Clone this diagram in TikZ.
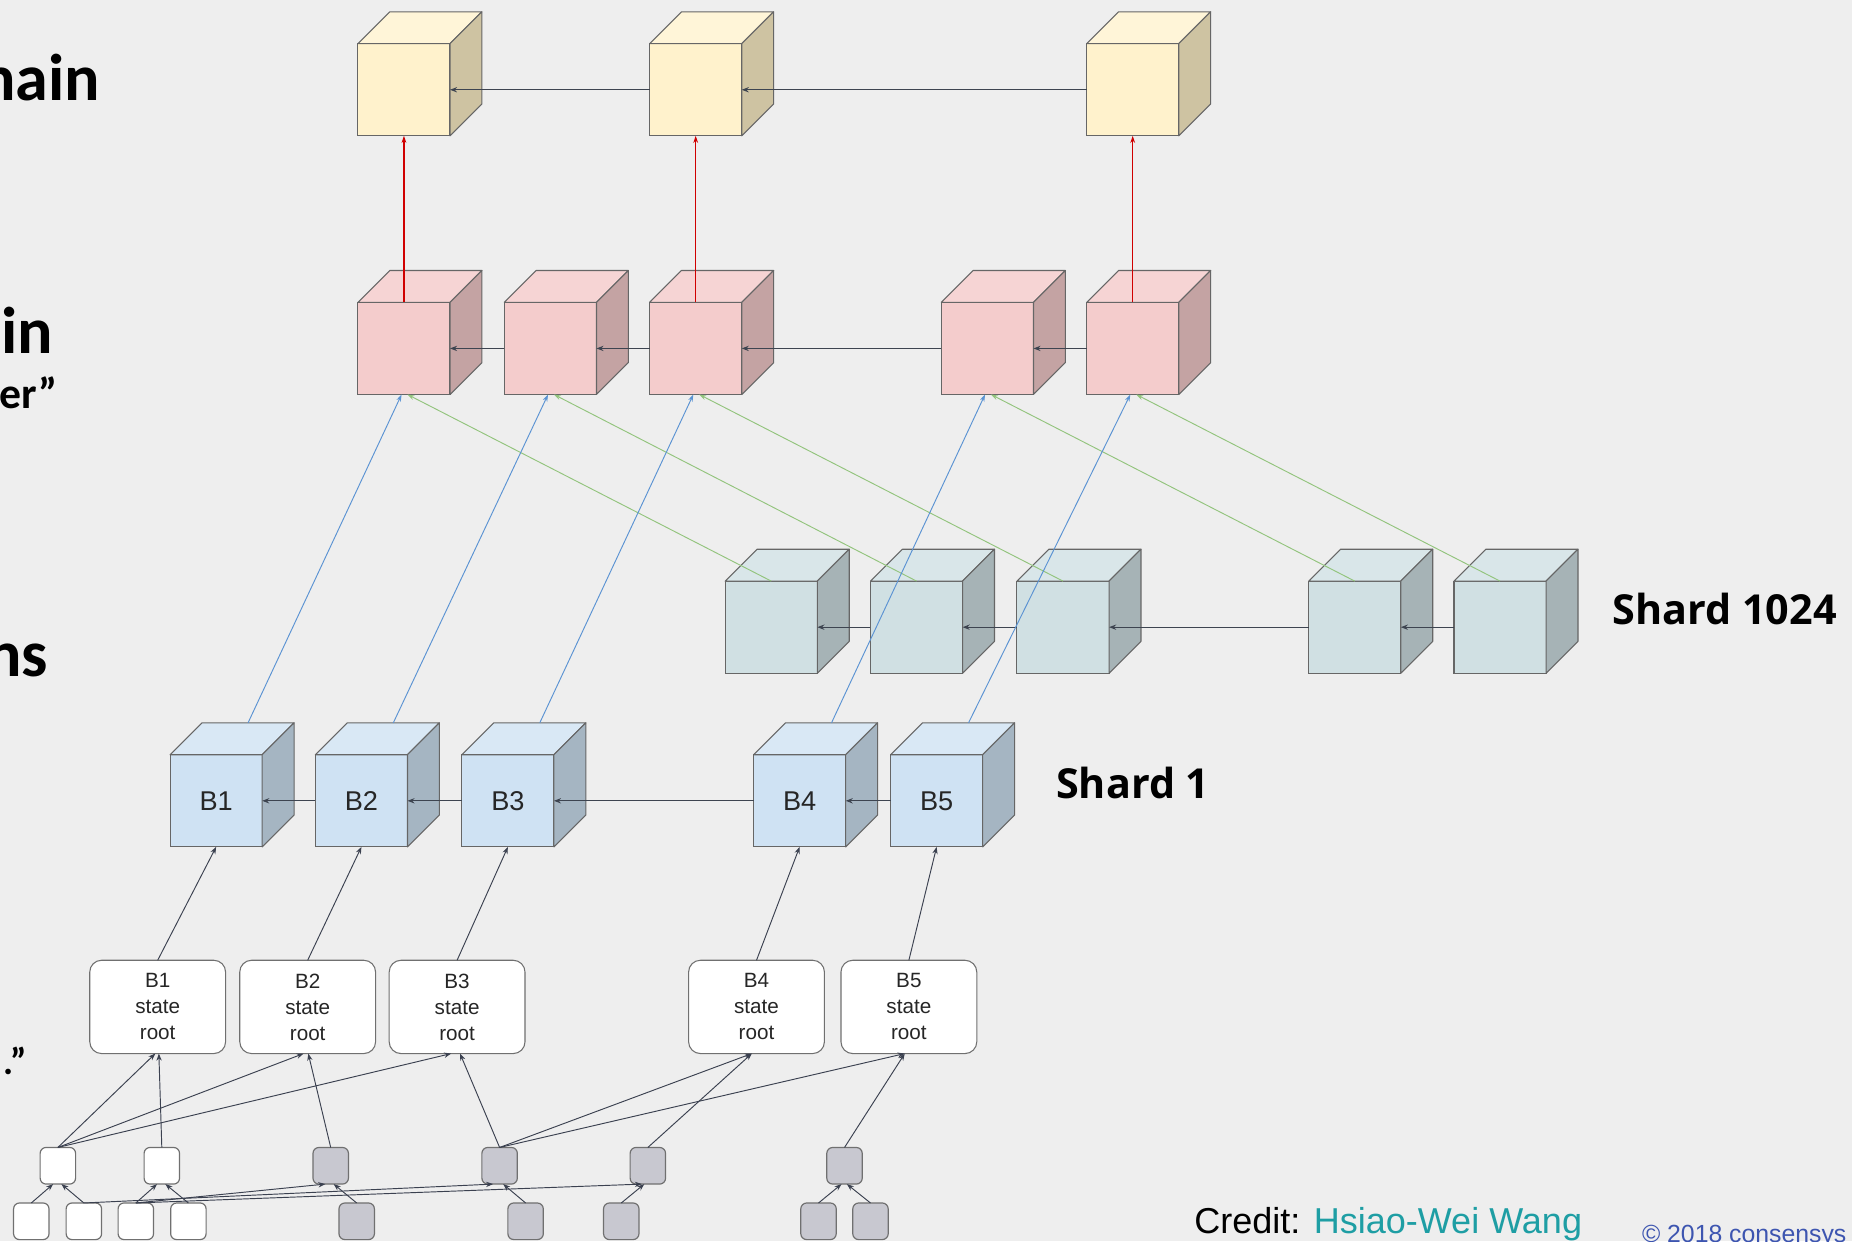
\documentclass[tikz,border=0pt]{standalone}
\usepackage{fontspec}
\setmainfont{Liberation Sans}
\newfontfamily\headfont{Carlito}
\newfontfamily\shardfont{Open Sans}
\usetikzlibrary{arrows.meta,calc}

% palette
\definecolor{bgcol}{HTML}{EEEEEE}
\definecolor{edgecol}{HTML}{666666}
\definecolor{ylwfront}{HTML}{FFF2CC}
\definecolor{ylwtop}{HTML}{FFF5D8}
\definecolor{ylwside}{HTML}{CEC3A2}
\definecolor{pnkfront}{HTML}{F4CCCC}
\definecolor{pnktop}{HTML}{F6D4D4}
\definecolor{pnkside}{HTML}{C4A3A3}
\definecolor{tealfront}{HTML}{D0E0E3}
\definecolor{tealtop}{HTML}{D9E6E9}
\definecolor{tealside}{HTML}{A6B3B6}
\definecolor{blufront}{HTML}{CFE2F3}
\definecolor{blutop}{HTML}{D9E8F5}
\definecolor{bluside}{HTML}{A5B5C2}
\definecolor{linkcol}{HTML}{3D4450}
\definecolor{treecol}{HTML}{3B4150}
\definecolor{redcol}{HTML}{D00000}
\definecolor{bluecol}{HTML}{5B93D3}
\definecolor{greencol}{HTML}{93C47D}
\definecolor{leafgray}{HTML}{C8C8D0}
\definecolor{boxedge}{HTML}{707070}
\definecolor{credcol}{HTML}{1E9EA4}
\definecolor{copycol}{HTML}{3D55B0}

\tikzset{
  cubefront/.style={draw=edgecol, line width=0.9pt, minimum width=78pt,
    minimum height=78pt, inner sep=0pt, outer sep=0pt,
    font=\fontsize{23}{27}\selectfont, text=black!85},
  cubeface/.style={draw=edgecol, line width=0.9pt, line join=round},
  link/.style={color=linkcol, line width=0.9pt, -{Stealth[length=6pt,width=4.5pt]}},
  proof/.style={draw=redcol, fill=redcol, line width=1pt, -{Stealth[length=6pt,width=4pt]}},
  bluelink/.style={color=bluecol, line width=0.8pt, -{Stealth[length=6pt,width=4pt]}},
  greenlink/.style={color=greencol, line width=0.8pt, -{Stealth[length=6pt,width=4pt]}},
  tree/.style={color=treecol, line width=0.8pt, -{Stealth[length=6pt,width=4.5pt]}},
  rootbox/.style={draw=boxedge, fill=white, line width=0.9pt, rounded corners=10pt,
    minimum width=115pt, minimum height=79pt, inner sep=0pt, outer sep=0pt,
    align=center, font=\fontsize{17.5}{22}\selectfont, text=black!85},
  leafw/.style={draw=boxedge, fill=white, line width=1pt, rounded corners=5pt,
    minimum width=30pt, minimum height=31pt, inner sep=0pt, outer sep=0pt},
  leafg/.style={leafw, fill=leafgray},
  headtext/.style={inner sep=0pt, anchor=base east, font=\headfont\bfseries\fontsize{56}{60}\selectfont},
  shardlabel/.style={inner sep=0pt, anchor=base west, font=\shardfont\bfseries\fontsize{35}{40}\selectfont},
}

% a block drawn as a cube: name, left x, top y, front, top, side colours, label
\newcommand\drawcube[7]{%
  \node[cubefront, fill=#4, anchor=north west] (#1) at (#2,#3) {#7};
  \filldraw[cubeface, fill=#5] (#1.north west) -- ++(27,-27) -- ++(78,0) -- (#1.north east) -- cycle;
  \filldraw[cubeface, fill=#6] (#1.north east) -- ++(27,-27) -- ++(0,78) -- (#1.south east) -- cycle;
}

\begin{document}
\begin{tikzpicture}[x=1pt,y=-1pt]
\useasboundingbox (0,0) rectangle (1568,1051);
\fill[bgcol] (0,0) rectangle (1568,1051);

% main chain
\drawcube{y1}{303}{37}{ylwfront}{ylwtop}{ylwside}{}
\drawcube{y2}{550}{37}{ylwfront}{ylwtop}{ylwside}{}
\drawcube{y3}{920}{37}{ylwfront}{ylwtop}{ylwside}{}

% beacon chain
\drawcube{p1}{303}{256}{pnkfront}{pnktop}{pnkside}{}
\drawcube{p2}{427}{256}{pnkfront}{pnktop}{pnkside}{}
\drawcube{p3}{550}{256}{pnkfront}{pnktop}{pnkside}{}
\drawcube{p4}{797}{256}{pnkfront}{pnktop}{pnkside}{}
\drawcube{p5}{920}{256}{pnkfront}{pnktop}{pnkside}{}

% beacon blocks anchored in the main chain
\begin{scope}[proof]
  \foreach \lo/\hi in {p5/y3, p3/y2, p1/y1}{
    \draw (\lo.north) -- (\hi.south);
  }
\end{scope}

% shard 1024
\drawcube{t1}{614}{492}{tealfront}{tealtop}{tealside}{}
\drawcube{t2}{737}{492}{tealfront}{tealtop}{tealside}{}
\drawcube{t3}{861}{492}{tealfront}{tealtop}{tealside}{}
\drawcube{t4}{1108}{492}{tealfront}{tealtop}{tealside}{}
\drawcube{t5}{1231}{492}{tealfront}{tealtop}{tealside}{}

% shard 1
\drawcube{b1}{144}{639}{blufront}{blutop}{bluside}{B1}
\drawcube{b2}{267}{639}{blufront}{blutop}{bluside}{B2}
\drawcube{b3}{391}{639}{blufront}{blutop}{bluside}{B3}
\drawcube{b4}{638}{639}{blufront}{blutop}{bluside}{B4}
\drawcube{b5}{754}{639}{blufront}{blutop}{bluside}{B5}

% side headings
\node[headtext] (hA) at (85,85) {hain};
\node[headtext] (hB) at (45,299) {in};
\node[headtext, font=\headfont\bfseries\fontsize{37}{40}\selectfont] (hC) at (49,346) {er”};
\node[headtext] (hD) at (41,573) {ns};
\node[headtext, font=\headfont\bfseries\fontsize{32}{34}\selectfont] (hE) at (23,910) {.”};

\node[shardlabel] (s1024) at (1365,529) {Shard 1024};
\node[shardlabel] (s1) at (894,676) {Shard 1};

% parent links along each chain
\draw[link] (y2.west) -- (y1.east);
\draw[link] (y3.west) -- (y2.east);
\draw[link] (p2.west) -- (p1.east);
\draw[link] (p3.west) -- (p2.east);
\draw[link] (p4.west) -- (p3.east);
\draw[link] (p5.west) -- (p4.east);
\draw[link] (t2.west) -- (t1.east);
\draw[link] (t3.west) -- (t2.east);
\draw[link] (t4.west) -- (t3.east);
\draw[link] (t5.west) -- (t4.east);
\draw[link] (b2.west) -- (b1.east);
\draw[link] (b3.west) -- (b2.east);
\draw[link] (b4.west) -- (b3.east);
\draw[link] (b5.west) -- (b4.east);

% crosslinks from shards into the beacon chain
\foreach \i in {1,...,5}{
  \draw[bluelink] ($(b\i.north)+(27,-27)$) -- ($(p\i.south)+(-2,0)$);
  \draw[greenlink] (t\i.north) -- ($(p\i.south)+(3,0)$);
}

% state roots
\node[rootbox] (r1) at (133.5,852.5) {B1\\state\\root};
\node[rootbox] (r2) at (260.5,852.5) {B2\\state\\root};
\node[rootbox] (r3) at (387,852.5) {B3\\state\\root};
\node[rootbox] (r4) at (640.5,852.5) {B4\\state\\root};
\node[rootbox] (r5) at (769.5,852.5) {B5\\state\\root};

\draw[tree] (r1.north) -- (b1.south);
\draw[tree] (r2.north) -- (b2.south);
\draw[tree] (r3.north) -- (b3.south);
\draw[tree] (r4.north) -- (b4.south);
\draw[tree] (r5.north) -- (b5.south);

% state tree nodes
\node[leafw] (l1) at (49,987) {};
\node[leafw] (l2) at (137,987) {};
\node[leafg] (l3) at (280,987) {};
\node[leafg] (l4) at (423,987) {};
\node[leafg] (l5) at (548.5,987) {};
\node[leafg] (l6) at (715,987) {};

\node[leafw] (m1) at (26.5,1034) {};
\node[leafw] (m2) at (71,1034) {};
\node[leafw] (m3) at (115,1034) {};
\node[leafw] (m4) at (159.5,1034) {};
\node[leafg] (m5) at (302,1034) {};
\node[leafg] (m6) at (445,1034) {};
\node[leafg] (m7) at (526,1034) {};
\node[leafg] (m8) at (693,1034) {};
\node[leafg] (m9) at (737,1034) {};

% upper tree level to state roots
\draw[tree] (l1.north) -- ($(r1.south)+(-2,0)$);
\draw[tree] (l2.north) -- ($(r1.south)+(1,0)$);
\draw[tree] (l1.north) -- ($(r2.south)+(-3.5,0)$);
\draw[tree] (l3.north) -- ($(r2.south)+(0.5,0)$);
\draw[tree] (l1.north) -- ($(r3.south)+(-5,0)$);
\draw[tree] (l4.north) -- ($(r3.south)+(2.5,0)$);
\draw[tree] (l4.north) -- ($(r4.south)+(-4,0)$);
\draw[tree] (l5.north) -- ($(r4.south)+(-4,0)$);
\draw[tree] (l4.north) -- ($(r5.south)+(-3.5,0)$);
\draw[tree] (l6.north) -- ($(r5.south)+(-3.5,0)$);

% lower tree level
\draw[tree] (m1.north) -- ($(l1.south)+(-4,0)$);
\draw[tree] (m2.north) -- ($(l1.south)+(3,0)$);
\draw[tree] (m3.north) -- ($(l2.south)+(-4,0)$);
\draw[tree] (m4.north) -- ($(l2.south)+(3,0)$);
\draw[tree] (m3.north) -- ($(l3.south)+(-4.5,0)$);
\draw[tree] (m5.north) -- ($(l3.south)+(2.5,0)$);
\draw[tree] (m2.north) -- ($(l4.south)+(-5.5,0)$);
\draw[tree] (m6.north) -- ($(l4.south)+(3,0)$);
\draw[tree] (m3.north) -- ($(l5.south)+(-5,0)$);
\draw[tree] (m7.north) -- ($(l5.south)+(-3,0)$);
\draw[tree] (m8.north) -- ($(l6.south)+(-2.5,0)$);
\draw[tree] (m9.north) -- ($(l6.south)+(2,0)$);

% credits
\node[inner sep=0pt, anchor=base west, font=\fontsize{30.5}{34}\selectfont] (cred) at (1011,1044)
  {Credit: \textcolor{credcol}{Hsiao-Wei Wang}};
\node[inner sep=0pt, anchor=base west, font=\fontsize{21}{24}\selectfont, text=copycol] (copy) at (1390,1052)
  {© 2018 consensys};
\end{tikzpicture}
\end{document}
